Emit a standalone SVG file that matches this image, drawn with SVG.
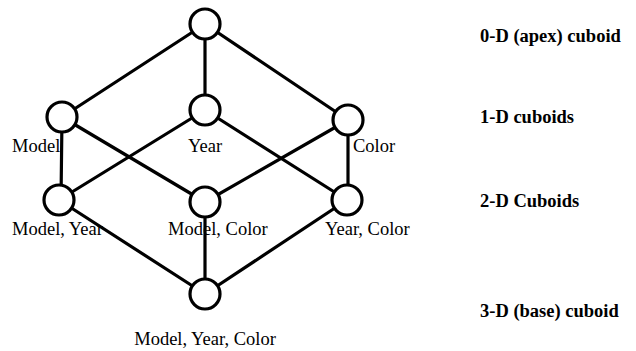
<svg xmlns="http://www.w3.org/2000/svg" width="636" height="351" viewBox="0 0 636 351">
  <style>
    .edge { stroke: #000; stroke-width: 3.2; stroke-linecap: round; fill: none; }
    .node { fill: #fff; stroke: #000; stroke-width: 3.2; }
    .lbl { font-family: "Liberation Serif", "Times New Roman", serif; font-size: 18.5px; fill: #000; }
    .lvl { font-family: "Liberation Serif", "Times New Roman", serif; font-size: 18.5px; font-weight: bold; fill: #000; }
  </style>
  <rect width="636" height="351" fill="#fff"/>

  <!-- cuboid names -->
  <g id="labels">
    <text class="lbl" x="12" y="152">Model</text>
    <text class="lbl" x="205" y="152" text-anchor="middle">Year</text>
    <text class="lbl" x="353" y="152">Color</text>
    <text class="lbl" x="12" y="235">Model, Year</text>
    <text class="lbl" x="168" y="235">Model, Color</text>
    <text class="lbl" x="325" y="235">Year, Color</text>
    <text class="lbl" x="205" y="345" text-anchor="middle">Model, Year, Color</text>
  </g>

  <!-- lattice edges -->
  <g id="connectors">
    <line class="edge" x1="205" y1="24" x2="62" y2="117"/>
    <line class="edge" x1="205" y1="24" x2="205" y2="110"/>
    <line class="edge" x1="205" y1="24" x2="348" y2="120"/>
    <line class="edge" x1="62" y1="117" x2="61" y2="200"/>
    <line class="edge" x1="62" y1="117" x2="205" y2="202"/>
    <line class="edge" x1="205" y1="110" x2="59" y2="200"/>
    <line class="edge" x1="205" y1="110" x2="347" y2="200"/>
    <line class="edge" x1="348" y1="120" x2="205" y2="202"/>
    <line class="edge" x1="348" y1="120" x2="348" y2="200"/>
    <line class="edge" x1="59" y1="200" x2="205" y2="294"/>
    <line class="edge" x1="205" y1="202" x2="205" y2="294"/>
    <line class="edge" x1="347" y1="200" x2="205" y2="294"/>
  </g>

  <!-- cuboid nodes -->
  <g id="apex"><circle class="node" cx="205" cy="24" r="15"/></g>
  <g id="model"><circle class="node" cx="62" cy="117" r="15"/></g>
  <g id="year"><circle class="node" cx="205" cy="110" r="15"/></g>
  <g id="color"><circle class="node" cx="348" cy="120" r="15"/></g>
  <g id="model-year"><circle class="node" cx="59" cy="200" r="15"/></g>
  <g id="model-color"><circle class="node" cx="205" cy="202" r="15"/></g>
  <g id="year-color"><circle class="node" cx="347" cy="200" r="15"/></g>
  <g id="base"><circle class="node" cx="205" cy="294" r="15"/></g>

  <!-- lattice level captions -->
  <g id="levels">
    <text class="lvl" x="480" y="42">0-D (apex) cuboid</text>
    <text class="lvl" x="480" y="123">1-D cuboids</text>
    <text class="lvl" x="480" y="207">2-D Cuboids</text>
    <text class="lvl" x="480" y="317">3-D (base) cuboid</text>
  </g>
</svg>
